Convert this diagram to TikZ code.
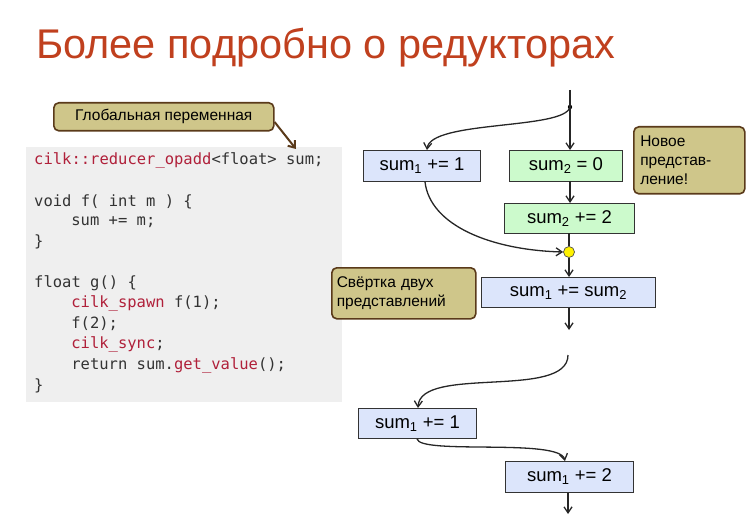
\documentclass[tikz,border=0pt]{standalone}
\usepackage{fontspec}
\setmainfont{Liberation Sans}
\newfontfamily\codefont{DejaVu Sans Mono}
\usetikzlibrary{arrows.meta}
\definecolor{titlec}{HTML}{C0401E}
\definecolor{callf}{HTML}{CFC68A}
\definecolor{calld}{HTML}{5A3A1A}
\definecolor{bluef}{HTML}{DCE5FB}
\definecolor{greenf}{HTML}{CCFACC}
\definecolor{codebg}{HTML}{EFEFEF}
\definecolor{kw}{HTML}{B0203A}
\definecolor{codetx}{HTML}{333333}
\tikzset{
  callout/.style={draw=calld,fill=callf,line width=1.6pt,rounded corners=5pt,inner sep=0pt,font=\fontsize{15.5}{19}\selectfont,align=left},
  opbox/.style={draw=black!80,line width=0.9pt,inner sep=0pt,font=\fontsize{18.5}{21}\selectfont},
  bluebox/.style={opbox,fill=bluef},
  greenbox/.style={opbox,fill=greenf},
  flow/.style={draw=black!85,line width=1.3pt,-{Straight Barb[length=6pt,width=8pt]}},
  codeline/.style={anchor=west,inner sep=0pt,font=\codefont\fontsize{15.5}{16}\selectfont,text=codetx}
}
\begin{document}
\begin{tikzpicture}[x=1pt,y=-1pt]
\useasboundingbox (0,0) rectangle (750,516);
\node[anchor=west,inner sep=0pt,text=titlec,font=\fontsize{41.5}{46}\selectfont] (title) at (36,48) {Более подробно о редукторах};
% code
\node[fill=codebg,minimum width=316pt,minimum height=255pt,anchor=north west,inner sep=0pt] (code) at (26,147) {};
\node[codeline] (c1) at (34,160) {\textcolor{kw}{cilk::reducer\_opadd}<float> sum;};
\node[codeline] (c2) at (34,202) {void f( int m ) \{};
\node[codeline] (c3) at (34,222) {\hspace{2.4em}sum += m;};
\node[codeline] (c4) at (34,242) {\}};
\node[codeline] (c5) at (34,283) {float g() \{};
\node[codeline] (c6) at (34,303) {\hspace{2.4em}\textcolor{kw}{cilk\_spawn} f(1);};
\node[codeline] (c7) at (34,324) {\hspace{2.4em}f(2);};
\node[codeline] (c8) at (34,344) {\hspace{2.4em}\textcolor{kw}{cilk\_sync};};
\node[codeline] (c9) at (34,365) {\hspace{2.4em}return sum.\textcolor{kw}{get\_value}();};
\node[codeline] (c10) at (34,386) {\}};
% callouts
\node[callout,minimum width=220pt,minimum height=28pt,anchor=north west] (g) at (53,102) {\hspace{8pt}Глобальная переменная\hspace{8pt}};
\coordinate (gend) at (296,149);
\draw[draw=calld,line width=2pt,-{Straight Barb[length=6pt,width=9pt]}] (g.east |- 0,122) -- (gend);
\node[callout,minimum width=111pt,minimum height=67pt,anchor=north west,text width=98pt] (nov) at (633,126) {Новое\\представ-\\ление!};
\node[callout,minimum width=144pt,minimum height=51pt,anchor=north west,text width=134pt] (sv) at (331,267) {Свёртка двух\\представлений};
% top flow
\coordinate (top) at (570,90);
\coordinate (fork) at (570,107);
\node[bluebox,minimum width=117pt,minimum height=31pt,anchor=north west] (b1) at (363,150) {sum\textsubscript{1} += 1};
\node[greenbox,minimum width=113pt,minimum height=31pt,anchor=north west] (g1) at (509,150) {sum\textsubscript{2} = 0};
\node[greenbox,minimum width=130pt,minimum height=30pt,anchor=north west] (g2) at (504,203) {sum\textsubscript{2} += 2};
\node[circle,fill=yellow,draw=black!70,line width=0.7pt,minimum size=11pt,inner sep=0pt] (dot) at (569,252) {};
\node[bluebox,minimum width=174pt,minimum height=30pt,anchor=north west] (b2) at (481,277) {sum\textsubscript{1} += sum\textsubscript{2}};
\coordinate (out1) at (569,330);
\fill (fork) circle (2.2pt);
\draw[line width=1.3pt,draw=black!85] (top) -- (fork);
\draw[flow] (fork) -- (fork |- g1.north);
\draw[flow] (fork) .. controls (565,130) and (430,120) .. (b1.north -| 427,0);
\draw[flow] (b1.south -| 425,0) .. controls (430,225) and (490,250) .. (dot.west);
\draw[flow] (570,181) -- (570,203);
\draw[line width=1.3pt,draw=black!85] (569,233) -- (dot.north);
\draw[flow] (dot.south) -- (b2.north -| dot);
\draw[flow] (b2.south -| dot) -- (out1);
% bottom flow
\coordinate (start2) at (568,355);
\node[bluebox,minimum width=118pt,minimum height=30pt,anchor=north west] (b3) at (358,408) {sum\textsubscript{1} += 1};
\node[bluebox,minimum width=128pt,minimum height=31pt,anchor=north west] (b4) at (505,461) {sum\textsubscript{1} += 2};
\coordinate (out2) at (568,514);
\draw[flow] (start2) .. controls (568,400) and (420,365) .. (b3.north -| 418,0);
\draw[flow] (b3.south -| 417,0) .. controls (420,455) and (560,438) .. (b4.north -| 565,0);
\draw[flow] (b4.south -| 568,0) -- (out2);
\end{tikzpicture}
\end{document}
